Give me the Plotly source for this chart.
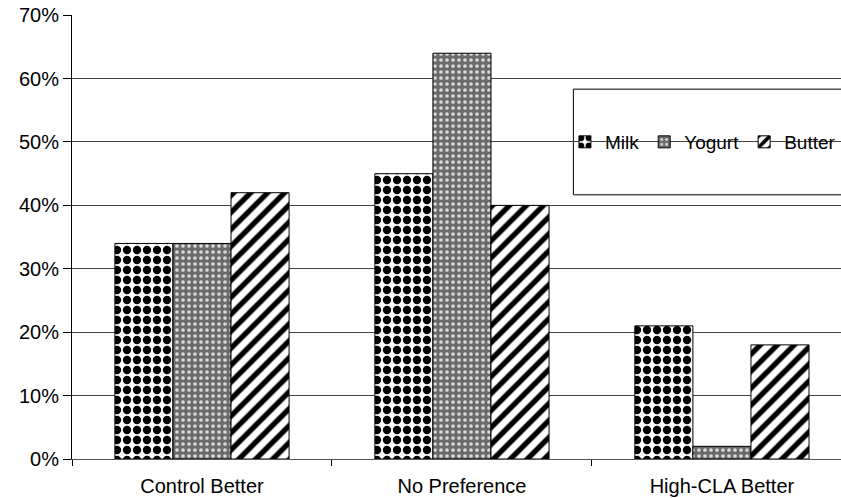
import plotly.graph_objects as go

categories = ["Control Better", "No Preference", "High-CLA Better"]
milk = [0.34, 0.45, 0.21]
yogurt = [0.34, 0.64, 0.02]
butter = [0.42, 0.40, 0.18]
y_ticks = [0, 0.1, 0.2, 0.3, 0.4, 0.5, 0.6, 0.7]

FONT = "Liberation Sans, Arial, sans-serif"

fig = go.Figure()
fig.add_trace(go.Bar(
    name="Milk", x=categories, y=milk,
    marker=dict(color="white", line=dict(color="black", width=1),
                pattern=dict(shape=".", fgcolor="black", bgcolor="white",
                             size=10, solidity=0.55, fillmode="replace")),
))
fig.add_trace(go.Bar(
    name="Yogurt", x=categories, y=yogurt,
    marker=dict(color="#8a8a8a", line=dict(color="black", width=1),
                pattern=dict(shape=".", fgcolor="#d8d8d8", bgcolor="#6a6a6a",
                             size=6, solidity=0.3, fillmode="replace")),
))
fig.add_trace(go.Bar(
    name="Butter", x=categories, y=butter,
    marker=dict(color="white", line=dict(color="black", width=1),
                pattern=dict(shape="/", fgcolor="black", bgcolor="white",
                             size=12, solidity=0.45, fillmode="replace")),
))

# legend frame (runs off the right edge as in the reference)
fig.add_shape(type="rect", xref="paper", yref="paper",
              x0=0.652, x1=1.06, y0=0.595, y1=0.833,
              line=dict(color="black", width=1), fillcolor="white", layer="below")

fig.update_layout(
    width=841, height=498,
    margin=dict(l=72, r=0, t=15, b=39, autoexpand=False),
    paper_bgcolor="white", plot_bgcolor="white",
    barmode="group", bargap=0.33, bargroupgap=0,
    font=dict(family=FONT, size=20, color="black"),
    showlegend=True,
    legend=dict(orientation="h", x=0.641, y=0.714, xanchor="left", yanchor="middle",
                bgcolor="rgba(0,0,0,0)", borderwidth=0, font=dict(size=19),
                itemwidth=30, tracegroupgap=0),
    xaxis=dict(range=[-0.5, 2.458], tickson="boundaries", ticks="outside", ticklen=6,
               tickcolor="black", showline=True, linecolor="#555", linewidth=1,
               showgrid=False, zeroline=False, tickfont=dict(size=20),
               ticklabelstandoff=9),
    yaxis=dict(range=[0, 0.7003], tickvals=y_ticks, tickformat=".0%", ticks="outside",
               ticklen=8, tickcolor="black", showline=True, linecolor="black", linewidth=1,
               showgrid=True, gridcolor="#444", gridwidth=1, zeroline=False,
               tickfont=dict(size=20), ticklabeloverflow="allow"),
)

# remove the default page-body margin so the figure sits at the window's top-left corner
fig.write_html("out.html", config={"displayModeBar": False},
               post_script="document.body.style.margin='0';")
